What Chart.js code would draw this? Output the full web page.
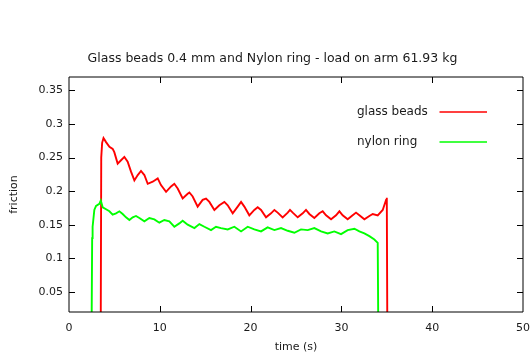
<!DOCTYPE html>
<html>
<head>
<meta charset="utf-8">
<script src="https://cdn.jsdelivr.net/npm/chart.js@4/dist/chart.umd.min.js"></script>
<style>
  html, body { margin: 0; padding: 0; background: #fff; }
  #wrap { width: 531px; height: 354px; }
</style>
</head>
<body>
<div id="wrap"><canvas id="c" width="531" height="354"></canvas></div>
<script>
const chartTitle = "Glass beads 0.4 mm and Nylon ring - load on arm 61.93 kg";
const xAxisTitle = "time (s)";
const yAxisTitle = "friction";
const seriesNames = ["glass beads", "nylon ring"];

const xTickValues = [0, 10, 20, 30, 40, 50];
const xTickLabels = ["0", "10", "20", "30", "40", "50"];
const yTickValues = [0.05, 0.1, 0.15, 0.2, 0.25, 0.3, 0.35];
const yTickLabels = ["0.05", "0.1", "0.15", "0.2", "0.25", "0.3", "0.35"];

// glass beads (red)
const glassTime = [3.5, 3.55, 3.65, 3.8, 4.08, 4.45, 4.81, 4.99, 5.36, 5.73, 6.10, 6.46, 6.83, 7.20, 7.57, 7.93, 8.30, 8.67,
  9.22, 9.77, 10.13, 10.69, 11.24, 11.60, 11.97, 12.52, 13.07, 13.26, 13.62, 14.17, 14.72, 15.09, 15.46, 16.01, 16.56,
  17.11, 17.48, 18.03, 18.58, 18.95, 19.31, 19.86, 20.41, 20.78, 21.15, 21.70, 22.25, 22.62, 22.98, 23.53, 24.09, 24.34,
  24.64, 25.19, 25.74, 26.10, 26.47, 27.02, 27.57, 27.94, 28.31, 28.86, 29.41, 29.78, 30.14, 30.69, 31.24, 31.61, 31.98,
  32.53, 33.08, 33.45, 34.00, 34.55, 34.92, 35.0, 35.05];
const glassFriction = [0.02, 0.25, 0.272, 0.279, 0.273, 0.266, 0.263, 0.258, 0.241, 0.246, 0.251, 0.244, 0.229, 0.216, 0.224, 0.230, 0.224, 0.211,
  0.214, 0.219, 0.209, 0.199, 0.207, 0.211, 0.204, 0.189, 0.196, 0.198, 0.192, 0.177, 0.187, 0.189, 0.184, 0.172, 0.179,
  0.184, 0.179, 0.167, 0.177, 0.184, 0.177, 0.164, 0.172, 0.176, 0.172, 0.161, 0.167, 0.172, 0.168, 0.161, 0.168, 0.172,
  0.168, 0.161, 0.167, 0.172, 0.166, 0.160, 0.167, 0.170, 0.164, 0.158, 0.164, 0.170, 0.164, 0.158, 0.164, 0.168, 0.164,
  0.158, 0.163, 0.166, 0.164, 0.172, 0.187, 0.19, 0.02];

// nylon ring (green)
const nylonTime = [2.5, 2.55, 2.6, 2.79, 2.98, 3.34, 3.5, 3.71, 4.08, 4.45, 4.81, 5.18, 5.55, 5.91, 6.28, 6.65, 7.02, 7.38, 7.75,
  8.30, 8.85, 9.40, 9.95, 10.50, 11.05, 11.60, 12.15, 12.52, 13.07, 13.81, 14.36, 14.91, 15.64, 16.19, 16.74, 17.48,
  18.21, 18.95, 19.68, 20.41, 21.15, 21.88, 22.62, 23.35, 24.09, 24.82, 25.55, 26.29, 27.02, 27.76, 28.49, 29.22, 29.96,
  30.69, 31.43, 31.98, 32.53, 33.08, 33.63, 34.00, 34.05];
const nylonFriction = [0.02, 0.13, 0.147, 0.172, 0.178, 0.181, 0.186, 0.176, 0.173, 0.170, 0.165, 0.167, 0.170, 0.166, 0.161, 0.157, 0.161, 0.163, 0.160,
  0.155, 0.160, 0.158, 0.153, 0.157, 0.155, 0.147, 0.152, 0.156, 0.150, 0.145, 0.151, 0.147, 0.142, 0.147, 0.145, 0.143,
  0.147, 0.140, 0.147, 0.143, 0.140, 0.146, 0.142, 0.145, 0.141, 0.138, 0.143, 0.142, 0.145, 0.140, 0.137, 0.140, 0.136,
  0.142, 0.144, 0.140, 0.137, 0.133, 0.128, 0.123, 0.02];

const FONT = "DejaVu Sans";
const TXT = "#1a1a1a";

function pts(xs, ys) { return xs.map((x, i) => ({ x: x, y: ys[i] })); }

const framePlugin = {
  id: "frame",
  afterDatasetsDraw(chart) {
    const ctx = chart.ctx;
    const a = chart.chartArea;
    const xs = chart.scales.x, ys = chart.scales.y;
    ctx.save();
    ctx.strokeStyle = "#000";
    ctx.lineWidth = 1;
    ctx.beginPath();
    ctx.rect(a.left, a.top, a.right - a.left, a.bottom - a.top);
    ctx.stroke();
    const L = 6;
    ctx.beginPath();
    xTickValues.forEach(v => {
      const px = Math.round(xs.getPixelForValue(v)) + 0.5;
      if (v > xs.min && v < xs.max) {
        ctx.moveTo(px, a.bottom); ctx.lineTo(px, a.bottom - L);
        ctx.moveTo(px, a.top); ctx.lineTo(px, a.top + L);
      }
    });
    yTickValues.forEach(v => {
      const py = Math.round(ys.getPixelForValue(v)) + 0.5;
      ctx.moveTo(a.left, py); ctx.lineTo(a.left + L, py);
      ctx.moveTo(a.right, py); ctx.lineTo(a.right - L, py);
    });
    ctx.stroke();

    // texts
    ctx.fillStyle = TXT;
    ctx.textAlign = "center";
    ctx.textBaseline = "middle";
    ctx.font = "12.5px '" + FONT + "'";
    ctx.fillText(chartTitle, 272.5, 59);
    ctx.font = "11px '" + FONT + "'";
    ctx.fillText(xAxisTitle, (a.left + a.right) / 2, 347.5);
    ctx.save();
    ctx.translate(14, (a.top + a.bottom) / 2);
    ctx.rotate(-Math.PI / 2);
    ctx.fillText(yAxisTitle, 0, 0);
    ctx.restore();

    // legend
    ctx.font = "12px '" + FONT + "'";
    chart.data.datasets.forEach((ds, i) => {
      const y = 111.5 + i * 30;
      ctx.textAlign = "left";
      ctx.fillStyle = TXT;
      ctx.fillText(ds.label, 357, y);
      ctx.strokeStyle = ds.borderColor;
      ctx.lineWidth = 1.5;
      ctx.beginPath();
      ctx.moveTo(439.5, y + 0.5);
      ctx.lineTo(487, y + 0.5);
      ctx.stroke();
    });
    ctx.restore();
  }
};

new Chart(document.getElementById("c"), {
  type: "line",
  data: {
    datasets: [
      { label: seriesNames[0], data: pts(glassTime, glassFriction), borderColor: "#ff0000",
        borderWidth: 1.9, pointRadius: 0, tension: 0, fill: false, order: 2 },
      { label: seriesNames[1], data: pts(nylonTime, nylonFriction), borderColor: "#00ff00",
        borderWidth: 1.9, pointRadius: 0, tension: 0, fill: false, order: 1 }
    ]
  },
  options: {
    responsive: false,
    animation: false,
    events: [],
    layout: { padding: { left: 0, top: 77, right: 8, bottom: 0 } },
    plugins: { legend: { display: false }, title: { display: false }, tooltip: { enabled: false } },
    scales: {
      x: {
        type: "linear", min: 0, max: 50,
        grid: { display: false, drawTicks: false },
        border: { display: false },
        afterBuildTicks(s) { s.ticks = xTickValues.map(v => ({ value: v })); },
        afterFit(s) { s.height = 42; s.paddingLeft = 0; s.paddingRight = 0; },
        ticks: {
          padding: 10, color: TXT, font: { family: FONT, size: 11 }, maxRotation: 0,
          callback: (v) => xTickLabels[xTickValues.indexOf(v)]
        }
      },
      y: {
        type: "linear", min: 0.02, max: 0.37,
        grid: { display: false, drawTicks: false },
        border: { display: false },
        afterBuildTicks(s) { s.ticks = yTickValues.map(v => ({ value: v })); },
        afterFit(s) { s.width = 69; s.paddingTop = 0; s.paddingBottom = 0; },
        ticks: {
          padding: 6, color: TXT, font: { family: FONT, size: 11 },
          callback: (v) => { const i = yTickValues.findIndex(t => Math.abs(t - v) < 1e-9); return yTickLabels[i]; }
        }
      }
    }
  },
  plugins: [framePlugin]
});
</script>
</body>
</html>
